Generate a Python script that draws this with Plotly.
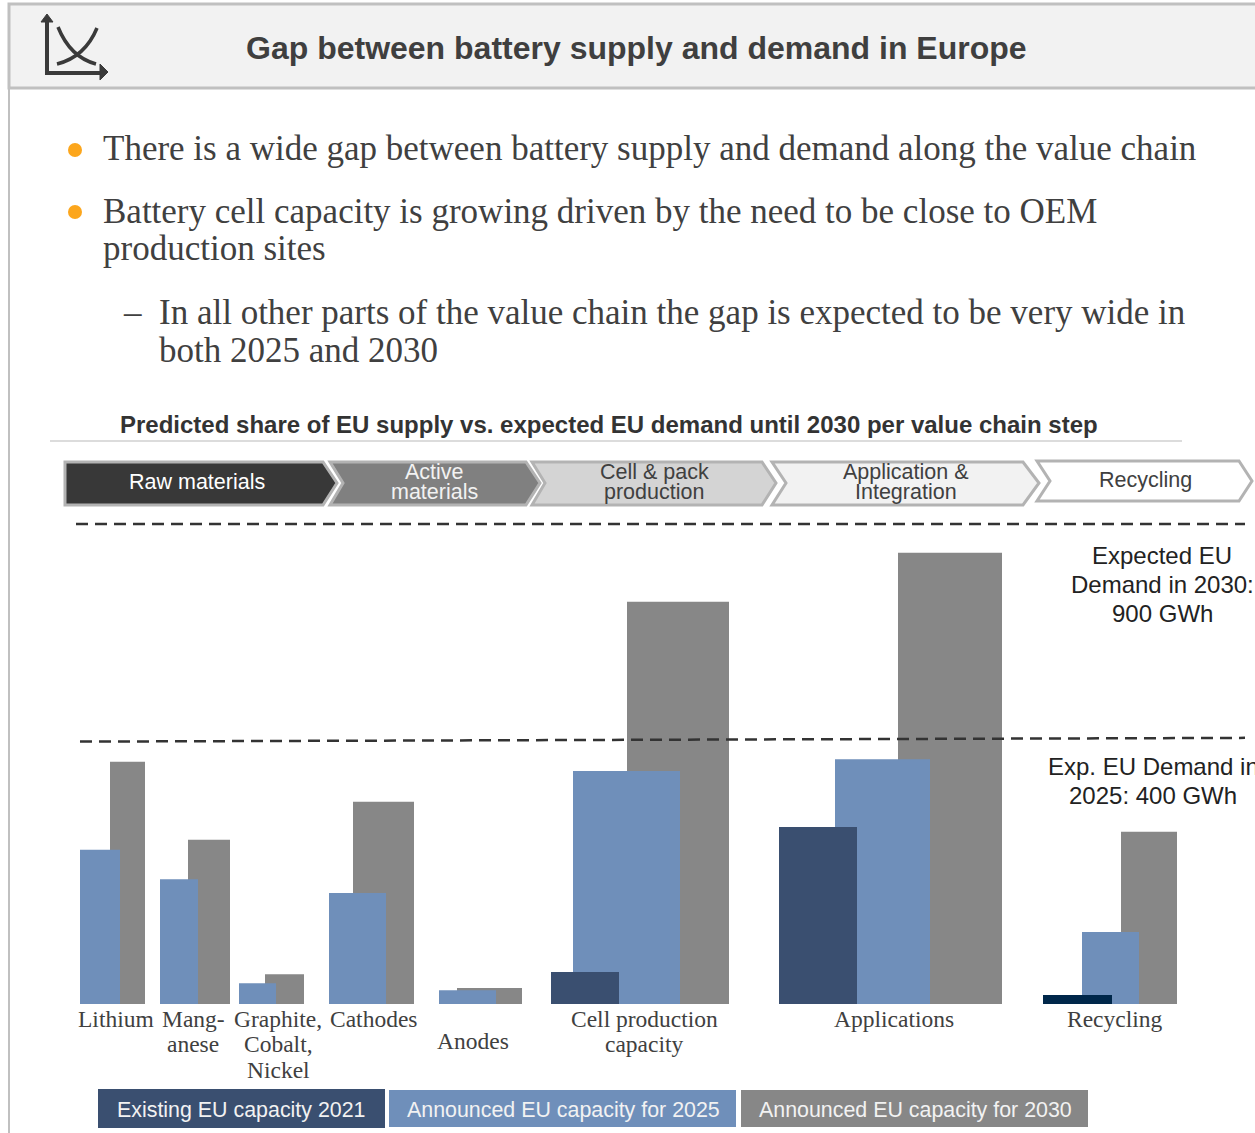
import plotly.graph_objects as go

# ---- data ----
categories = ["Lithium", "Manganese", "Graphite, Cobalt, Nickel", "Cathodes", "Anodes",
              "Cell production capacity", "Applications", "Recycling"]
cat_2021 = ["Cell production capacity", "Applications", "Recycling"]
existing_2021 = [60, 332, 17]
announced_2025 = [289, 234, 39, 208, 26, 437, 459, 135]
announced_2030 = [454, 308, 56, 379, 30, 754, 846, 323]
demand_2030 = [900, 900]
demand_2025_drawn = [492, 499]   # schematic, slightly tilted line in the source

# horizontal bar spans on the (hand-laid) slide, left/right edges
span_2021 = [(551, 619), (779, 857), (1043, 1112)]
span_2025 = [(80, 120), (160, 198), (239, 276), (329, 386), (439, 496), (573, 680), (835, 930), (1082, 1139)]
span_2030 = [(110, 145), (188, 230), (265, 304), (353, 414), (457, 522), (627, 729), (898, 1002), (1121, 1177)]

W, H = 1255, 1133
BASE = 1004
PX_PER = 480 / 900
SERIF = "Liberation Serif"
SANS = "Liberation Sans"
DARK = "#404040"
C21, C25, C30 = "#3a4f70", "#6f8fba", "#878787"


def px(x):
    return x / W


def py(y):
    return 1 - y / H


def centers(sp):
    return [(a + b) / 2 for a, b in sp]


def widths(sp):
    return [b - a for a, b in sp]


fig = go.Figure()
fig.add_bar(x=centers(span_2030), y=announced_2030, width=widths(span_2030), marker_color=C30,
            marker_line_width=0, name="Announced EU capacity for 2030", customdata=categories)
fig.add_bar(x=centers(span_2025), y=announced_2025, width=widths(span_2025), marker_color=C25,
            marker_line_width=0, name="Announced EU capacity for 2025", customdata=categories)
fig.add_bar(x=centers(span_2021), y=existing_2021, width=widths(span_2021),
            marker_color=[C21, C21, "#00274a"], marker_line_width=0,
            name="Existing EU capacity 2021", customdata=cat_2021)
fig.add_scatter(x=[76, 1245], y=demand_2030, mode="lines",
                line=dict(color="#333333", width=2.5, dash="12px,7px"), name="Expected EU demand 2030")
fig.add_scatter(x=[80, 1245], y=demand_2025_drawn, mode="lines",
                line=dict(color="#333333", width=2.5, dash="12px,7px"), name="Expected EU demand 2025")

shapes = []
ann = []


def rect(x0, y0, x1, y1, fill, line=None, lw=0, layer="below"):
    shapes.append(dict(type="rect", xref="paper", yref="paper", x0=px(x0), x1=px(x1), y0=py(y1), y1=py(y0),
                       fillcolor=fill, line=dict(color=line or fill, width=lw), layer=layer))


def path(d, fill=None, line="#3a3a3a", lw=3.5):
    s = ""
    for item in d:
        if isinstance(item, str):
            s += item + " "
        else:
            s += f"{px(item[0]):.5f},{py(item[1]):.5f} "
    shapes.append(dict(type="path", xref="paper", yref="paper", path=s.strip(),
                       fillcolor=fill or "rgba(0,0,0,0)", line=dict(color=line, width=lw), layer="above"))


def text(x, y, s, size, color=DARK, family=SANS, anchor="center", bold=False):
    if anchor == "left":
        x -= 2  # annotation box padding
    ann.append(dict(xref="paper", yref="paper", x=px(x), y=py(y), text=f"<b>{s}</b>" if bold else s,
                    showarrow=False, xanchor=anchor, yanchor="middle",
                    font=dict(family=family, size=size, color=color)))


# frame and header
rect(9, 4, W + 5, 88, "#f2f2f2", "#c0c0c0", 3)
rect(8, 4, 10, H, "#c0c0c0")
text(636.5, 47.5, "Gap between battery supply and demand in Europe", 32, "#3f3f3f", bold=True)

# header icon
path(["M", (47, 20), "L", (47, 73), "L", (101, 73)], lw=4)
path(["M", (47, 14), "L", (41, 22), "L", (53, 22), "Z"], fill="#3a3a3a", lw=1)
path(["M", (108, 72), "L", (100, 64), "L", (100, 80), "Z"], fill="#3a3a3a", lw=1)
path(["M", (58, 27), "Q", (70, 57), (96, 64)], lw=3.5)
path(["M", (57, 64), "Q", (85, 57), (97, 28)], lw=3.5)

# bullets
for by in (150, 212):
    shapes.append(dict(type="circle", xref="paper", yref="paper", x0=px(68), x1=px(82), y0=py(by + 7), y1=py(by - 7),
                       fillcolor="#fca61c", line=dict(width=0), layer="above"))
BSIZE = 35
text(103, 148, "There is a wide gap between battery supply and demand along the value chain", BSIZE, family=SERIF, anchor="left")
text(103, 211, "Battery cell capacity is growing driven by the need to be close to OEM", BSIZE, family=SERIF, anchor="left")
text(103, 249, "production sites", BSIZE, family=SERIF, anchor="left")
text(123, 313, "–", BSIZE, family=SERIF, anchor="left")
text(159, 312, "In all other parts of the value chain the gap is expected to be very wide in", BSIZE, family=SERIF, anchor="left")
text(159, 350, "both 2025 and 2030", BSIZE, family=SERIF, anchor="left")

# sub-heading
text(120, 424, "Predicted share of EU supply vs. expected EU demand until 2030 per value chain step", 24, "#333333", anchor="left", bold=True)
shapes.append(dict(type="line", xref="paper", yref="paper", x0=px(50), x1=px(1182), y0=py(441), y1=py(441),
                   line=dict(color="#dcdcdc", width=2), layer="below"))

# chevrons
EDGE = "#b3b3b3"
path(["M", (65, 462), "L", (323, 462), "L", (337, 483), "L", (323, 505), "L", (65, 505), "Z"], fill="#383838", line=EDGE, lw=3)
path(["M", (330, 462), "L", (526, 462), "L", (540, 483), "L", (526, 505), "L", (330, 505), "L", (343, 483), "Z"], fill="#808080", line=EDGE, lw=3)
path(["M", (532, 462), "L", (762, 462), "L", (776, 483), "L", (762, 505), "L", (532, 505), "L", (545, 483), "Z"], fill="#d4d4d4", line=EDGE, lw=3)
path(["M", (772, 462), "L", (1023, 462), "L", (1039, 483), "L", (1023, 505), "L", (772, 505), "L", (786, 483), "Z"], fill="#f2f2f2", line=EDGE, lw=3)
path(["M", (1037, 461), "L", (1239, 461), "L", (1252, 481), "L", (1239, 501), "L", (1037, 501), "L", (1050, 481), "Z"], fill="#ffffff", line=EDGE, lw=3)

CH = 21.5
text(197, 482, "Raw materials", CH, "#ffffff")
text(434, 472, "Active", CH, "#f2f2f2")
text(434, 492, "materials", CH, "#f2f2f2")
text(654, 472, "Cell &amp; pack", CH)
text(654, 492, "production", CH)
text(906, 472, "Application &amp;", CH)
text(906, 492, "Integration", CH)
text(1145, 480, "Recycling", CH)

# demand notes
N = 24
text(1162, 555, "Expected EU", N, "#222222")
text(1162, 584, "Demand in 2030:", N, "#222222")
text(1162, 613, "900 GWh", N, "#222222")
text(1048, 766, "Exp. EU Demand in", N, "#222222", anchor="left")
text(1153, 795, "2025: 400 GWh", N, "#222222")

# category labels
L = 23.5
for x, y, s in [(116, 1018.5, "Lithium"), (193, 1018.5, "Mang-"), (193, 1043.5, "anese"),
                (278, 1018.5, "Graphite,"), (278, 1043.5, "Cobalt,"), (278, 1069.5, "Nickel"),
                (373, 1018.5, "Cathodes"), (473, 1040.5, "Anodes"),
                (644, 1018.5, "Cell production"), (644, 1043.5, "capacity"),
                (894, 1018.5, "Applications"), (1115, 1018.5, "Recycling")]:
    text(x, y, s, L, family=SERIF)

# legend blocks
rect(98, 1089, 385, 1128, C21)
rect(389, 1090, 736, 1127, C25)
rect(741, 1090, 1088, 1127, C30)
text(241, 1110, "Existing EU capacity 2021", 21.4, "#f2f2f2")
text(563, 1110, "Announced EU capacity for 2025", 21.4, "#f2f2f2")
text(915, 1110, "Announced EU capacity for 2030", 21.4, "#f2f2f2")

fig.update_layout(
    width=W, height=H, margin=dict(l=0, r=0, t=0, b=0), paper_bgcolor="white", plot_bgcolor="rgba(0,0,0,0)",
    barmode="overlay", showlegend=False, shapes=shapes, annotations=ann,
    xaxis=dict(range=[0, W], visible=False, fixedrange=True),
    yaxis=dict(range=[(BASE - H) / PX_PER, BASE / PX_PER], visible=False, fixedrange=True),
)
fig.update_traces(hoverinfo="skip")
fig.write_html("out.html", config={"displayModeBar": False},
               post_script="document.body.style.margin='0';document.documentElement.style.overflow='hidden';")
